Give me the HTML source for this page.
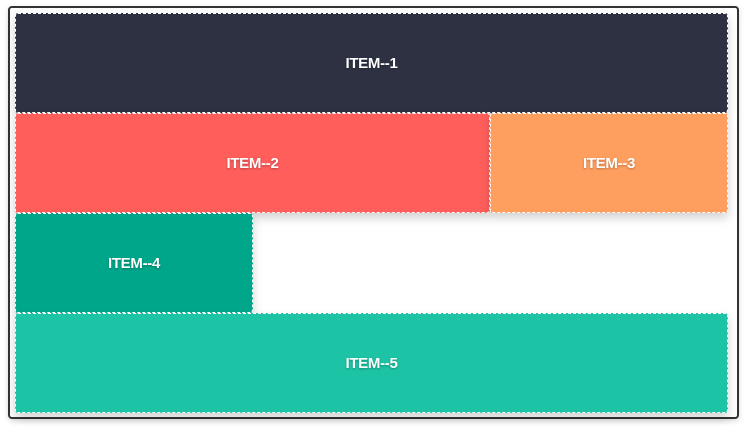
<!DOCTYPE html>
<html><head><meta charset="utf-8"><style>
body{margin:0;width:746px;height:430px;background:#fff;position:relative;overflow:hidden;font-family:"Liberation Sans",Arial,sans-serif}
.wrap{position:absolute;left:8px;top:6px;width:731px;height:413px;border:2px solid #333;border-radius:4px;box-sizing:border-box;box-shadow:0 2px 6px rgba(0,0,0,.15)}
.it{position:absolute;box-sizing:border-box;border:1px dashed #fff;border-radius:3px;color:#fff;font-weight:bold;font-size:15px;letter-spacing:-0.3px;display:flex;align-items:center;justify-content:center;box-shadow:0 5px 10px rgba(0,0,0,.18);text-shadow:0 1px 2px rgba(0,0,0,.3)}
</style></head><body>
<div class="wrap"></div>
<div class="it" style="left:15px;top:13px;width:713px;height:100px;background:#2d3142">ITEM--1</div>
<div class="it" style="left:15px;top:113px;width:475px;height:100px;background:#ff5e5b">ITEM--2</div>
<div class="it" style="left:490px;top:113px;width:238px;height:100px;background:#ff9f5f">ITEM--3</div>
<div class="it" style="left:15px;top:213px;width:238px;height:100px;background:#00a68a">ITEM--4</div>
<div class="it" style="left:15px;top:313px;width:713px;height:100px;background:#1dc3a5">ITEM--5</div>
</body></html>
